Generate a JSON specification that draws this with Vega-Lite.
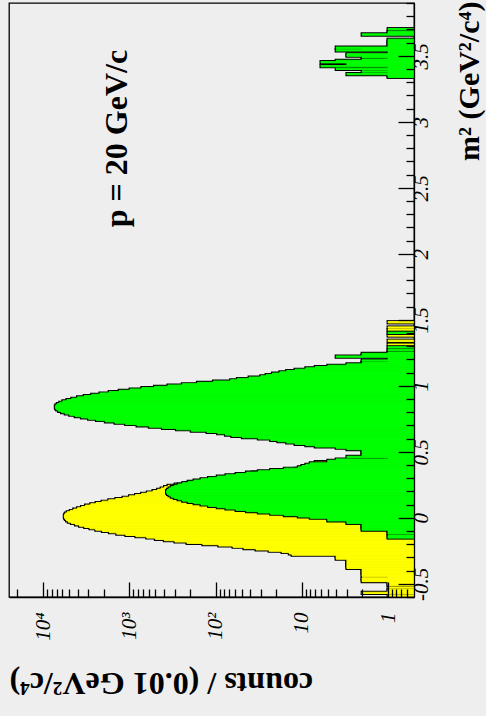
{
"$schema":"https://vega.github.io/schema/vega-lite/v6.json",
"width":405,"height":594,
"autosize":{"type":"none"},
"padding":{"left":9,"top":3,"right":72,"bottom":119},
"background":"#eeeeee",
"config":{"view":{"stroke":"black","strokeWidth":1.3,"fill":"#eeeeee"},"font":"Liberation Serif"},
"datasets":{"h":[
{"m":-0.59,"c":1,"s":"y"},{"m":-0.57,"c":2,"s":"y"},{"m":-0.56,"c":1,"s":"y"},{"m":-0.55,"c":1,"s":"y"},{"m":-0.53,"c":1,"s":"y"},{"m":-0.51,"c":1,"s":"y"},{"m":-0.50,"c":1,"s":"y"},{"m":-0.49,"c":1,"s":"y"},{"m":-0.48,"c":2,"s":"y"},{"m":-0.47,"c":2,"s":"y"},{"m":-0.46,"c":2,"s":"y"},{"m":-0.45,"c":1,"s":"y"},{"m":-0.44,"c":2,"s":"y"},{"m":-0.43,"c":2,"s":"y"},{"m":-0.42,"c":2,"s":"y"},{"m":-0.41,"c":2,"s":"y"},{"m":-0.40,"c":2,"s":"y"},{"m":-0.39,"c":2,"s":"y"},{"m":-0.38,"c":3,"s":"y"},{"m":-0.37,"c":3,"s":"y"},{"m":-0.36,"c":3,"s":"y"},{"m":-0.35,"c":3,"s":"y"},{"m":-0.34,"c":3,"s":"y"},{"m":-0.33,"c":3,"s":"y"},{"m":-0.32,"c":3,"s":"y"},{"m":-0.31,"c":4,"s":"y"},{"m":-0.30,"c":4,"s":"y"},{"m":-0.29,"c":4,"s":"y"},{"m":-0.28,"c":13,"s":"y"},{"m":-0.27,"c":14,"s":"y"},{"m":-0.26,"c":17,"s":"y"},{"m":-0.25,"c":24,"s":"y"},{"m":-0.24,"c":34,"s":"y"},{"m":-0.23,"c":47,"s":"y"},{"m":-0.22,"c":63,"s":"y"},{"m":-0.21,"c":92,"s":"y"},{"m":-0.20,"c":141,"s":"y"},{"m":-0.19,"c":215,"s":"y"},{"m":-0.18,"c":297,"s":"y"},{"m":-0.17,"c":394,"s":"y"},{"m":-0.16,"c":501,"s":"y"},{"m":-0.15,"c":631,"s":"y"},{"m":-0.14,"c":843,"s":"y"},{"m":-0.13,"c":1104,"s":"y"},{"m":-0.12,"c":1405,"s":"y"},{"m":-0.11,"c":1710,"s":"y"},{"m":-0.10,"c":2066,"s":"y"},{"m":-0.09,"c":2462,"s":"y"},{"m":-0.08,"c":2878,"s":"y"},{"m":-0.07,"c":3311,"s":"y"},{"m":-0.06,"c":3802,"s":"y"},{"m":-0.05,"c":4244,"s":"y"},{"m":-0.04,"c":4730,"s":"y"},{"m":-0.03,"c":5117,"s":"y"},{"m":-0.02,"c":5370,"s":"y"},{"m":-0.01,"c":5546,"s":"y"},{"m":0.00,"c":5662,"s":"y"},{"m":0.01,"c":5715,"s":"y"},{"m":0.02,"c":5662,"s":"y"},{"m":0.03,"c":5546,"s":"y"},{"m":0.04,"c":5280,"s":"y"},{"m":0.05,"c":4870,"s":"y"},{"m":0.06,"c":4442,"s":"y"},{"m":0.07,"c":4004,"s":"y"},{"m":0.08,"c":3603,"s":"y"},{"m":0.09,"c":3234,"s":"y"},{"m":0.10,"c":2816,"s":"y"},{"m":0.11,"c":2443,"s":"y"},{"m":0.12,"c":2085,"s":"y"},{"m":0.13,"c":1738,"s":"y"},{"m":0.14,"c":1440,"s":"y"},{"m":0.15,"c":1189,"s":"y"},{"m":0.16,"c":1000,"s":"y"},{"m":0.17,"c":851,"s":"y"},{"m":0.18,"c":724,"s":"y"},{"m":0.19,"c":622,"s":"y"},{"m":0.20,"c":534,"s":"y"},{"m":0.21,"c":472,"s":"y"},{"m":0.22,"c":430,"s":"y"},{"m":0.23,"c":392,"s":"y"},{"m":0.24,"c":357,"s":"y"},{"m":0.25,"c":295,"s":"y"},{"m":0.26,"c":234,"s":"y"},{"m":0.27,"c":182,"s":"y"},{"m":0.28,"c":144,"s":"y"},{"m":0.29,"c":112,"s":"y"},{"m":0.30,"c":90,"s":"y"},{"m":0.31,"c":72,"s":"y"},{"m":0.32,"c":58,"s":"y"},{"m":0.33,"c":47,"s":"y"},{"m":0.34,"c":38,"s":"y"},{"m":0.35,"c":23,"s":"y"},{"m":0.36,"c":14,"s":"y"},{"m":0.37,"c":12,"s":"y"},{"m":0.38,"c":10,"s":"y"},{"m":0.39,"c":8,"s":"y"},{"m":0.40,"c":6,"s":"y"},{"m":0.41,"c":5,"s":"y"},{"m":0.42,"c":7,"s":"y"},{"m":0.43,"c":3,"s":"y"},{"m":0.44,"c":2,"s":"y"},{"m":0.45,"c":2,"s":"y"},{"m":0.46,"c":2,"s":"y"},{"m":0.48,"c":1,"s":"y"},{"m":0.50,"c":1,"s":"y"},{"m":0.53,"c":1,"s":"y"},{"m":1.18,"c":2,"s":"y"},{"m":1.26,"c":1,"s":"y"},{"m":1.31,"c":1,"s":"y"},{"m":1.34,"c":1,"s":"y"},{"m":1.38,"c":1,"s":"y"},{"m":1.42,"c":1,"s":"y"},{"m":1.44,"c":1,"s":"y"},{"m":1.48,"c":1,"s":"y"},
{"m":-0.15,"c":1,"s":"g"},{"m":-0.14,"c":1,"s":"g"},{"m":-0.12,"c":1,"s":"g"},{"m":-0.11,"c":1,"s":"g"},{"m":-0.10,"c":1,"s":"g"},{"m":-0.09,"c":2,"s":"g"},{"m":-0.08,"c":2,"s":"g"},{"m":-0.07,"c":2,"s":"g"},{"m":-0.06,"c":2,"s":"g"},{"m":-0.05,"c":2,"s":"g"},{"m":-0.04,"c":3,"s":"g"},{"m":-0.03,"c":3,"s":"g"},{"m":-0.02,"c":5,"s":"g"},{"m":-0.01,"c":5,"s":"g"},{"m":0.00,"c":8,"s":"g"},{"m":0.01,"c":11,"s":"g"},{"m":0.02,"c":16,"s":"g"},{"m":0.03,"c":23,"s":"g"},{"m":0.04,"c":32,"s":"g"},{"m":0.05,"c":44,"s":"g"},{"m":0.06,"c":58,"s":"g"},{"m":0.07,"c":76,"s":"g"},{"m":0.08,"c":96,"s":"g"},{"m":0.09,"c":121,"s":"g"},{"m":0.10,"c":148,"s":"g"},{"m":0.11,"c":178,"s":"g"},{"m":0.12,"c":209,"s":"g"},{"m":0.13,"c":242,"s":"g"},{"m":0.14,"c":273,"s":"g"},{"m":0.15,"c":302,"s":"g"},{"m":0.16,"c":328,"s":"g"},{"m":0.17,"c":348,"s":"g"},{"m":0.18,"c":363,"s":"g"},{"m":0.19,"c":371,"s":"g"},{"m":0.20,"c":371,"s":"g"},{"m":0.21,"c":363,"s":"g"},{"m":0.22,"c":348,"s":"g"},{"m":0.23,"c":328,"s":"g"},{"m":0.24,"c":302,"s":"g"},{"m":0.25,"c":273,"s":"g"},{"m":0.26,"c":242,"s":"g"},{"m":0.27,"c":209,"s":"g"},{"m":0.28,"c":178,"s":"g"},{"m":0.29,"c":148,"s":"g"},{"m":0.30,"c":121,"s":"g"},{"m":0.31,"c":96,"s":"g"},{"m":0.32,"c":76,"s":"g"},{"m":0.33,"c":58,"s":"g"},{"m":0.34,"c":44,"s":"g"},{"m":0.35,"c":32,"s":"g"},{"m":0.36,"c":23,"s":"g"},{"m":0.37,"c":16,"s":"g"},{"m":0.38,"c":11,"s":"g"},{"m":0.39,"c":10,"s":"g"},{"m":0.40,"c":9,"s":"g"},{"m":0.41,"c":8,"s":"g"},{"m":0.42,"c":5,"s":"g"},{"m":0.43,"c":5,"s":"g"},{"m":0.44,"c":4,"s":"g"},{"m":0.45,"c":1,"s":"g"},{"m":0.46,"c":3,"s":"g"},{"m":0.47,"c":2,"s":"g"},{"m":0.48,"c":2,"s":"g"},{"m":0.49,"c":2,"s":"g"},{"m":0.50,"c":2,"s":"g"},{"m":0.51,"c":2,"s":"g"},{"m":0.52,"c":3,"s":"g"},{"m":0.53,"c":4,"s":"g"},{"m":0.54,"c":7,"s":"g"},{"m":0.55,"c":9,"s":"g"},{"m":0.56,"c":12,"s":"g"},{"m":0.57,"c":15,"s":"g"},{"m":0.58,"c":19,"s":"g"},{"m":0.59,"c":23,"s":"g"},{"m":0.60,"c":32,"s":"g"},{"m":0.61,"c":49,"s":"g"},{"m":0.62,"c":65,"s":"g"},{"m":0.63,"c":77,"s":"g"},{"m":0.64,"c":95,"s":"g"},{"m":0.65,"c":126,"s":"g"},{"m":0.66,"c":192,"s":"g"},{"m":0.67,"c":285,"s":"g"},{"m":0.68,"c":415,"s":"g"},{"m":0.69,"c":589,"s":"g"},{"m":0.70,"c":818,"s":"g"},{"m":0.71,"c":1109,"s":"g"},{"m":0.72,"c":1472,"s":"g"},{"m":0.73,"c":1905,"s":"g"},{"m":0.74,"c":2415,"s":"g"},{"m":0.75,"c":2985,"s":"g"},{"m":0.76,"c":3614,"s":"g"},{"m":0.77,"c":4276,"s":"g"},{"m":0.78,"c":4938,"s":"g"},{"m":0.79,"c":5572,"s":"g"},{"m":0.80,"c":6152,"s":"g"},{"m":0.81,"c":6637,"s":"g"},{"m":0.82,"c":6998,"s":"g"},{"m":0.83,"c":7211,"s":"g"},{"m":0.84,"c":7261,"s":"g"},{"m":0.85,"c":7145,"s":"g"},{"m":0.86,"c":6871,"s":"g"},{"m":0.87,"c":6457,"s":"g"},{"m":0.88,"c":5932,"s":"g"},{"m":0.89,"c":5323,"s":"g"},{"m":0.90,"c":4674,"s":"g"},{"m":0.91,"c":4009,"s":"g"},{"m":0.92,"c":3357,"s":"g"},{"m":0.93,"c":2751,"s":"g"},{"m":0.94,"c":2203,"s":"g"},{"m":0.95,"c":1722,"s":"g"},{"m":0.96,"c":1318,"s":"g"},{"m":0.97,"c":984,"s":"g"},{"m":0.98,"c":719,"s":"g"},{"m":0.99,"c":513,"s":"g"},{"m":1.00,"c":358,"s":"g"},{"m":1.01,"c":244,"s":"g"},{"m":1.02,"c":163,"s":"g"},{"m":1.03,"c":106,"s":"g"},{"m":1.04,"c":67,"s":"g"},{"m":1.05,"c":56,"s":"g"},{"m":1.06,"c":41,"s":"g"},{"m":1.07,"c":30,"s":"g"},{"m":1.08,"c":26,"s":"g"},{"m":1.09,"c":22,"s":"g"},{"m":1.10,"c":18,"s":"g"},{"m":1.11,"c":15,"s":"g"},{"m":1.12,"c":12,"s":"g"},{"m":1.13,"c":9,"s":"g"},{"m":1.14,"c":7,"s":"g"},{"m":1.15,"c":5,"s":"g"},{"m":1.16,"c":3,"s":"g"},{"m":1.17,"c":2,"s":"g"},{"m":1.18,"c":1,"s":"g"},{"m":1.19,"c":2,"s":"g"},{"m":1.20,"c":1,"s":"g"},{"m":1.21,"c":1,"s":"g"},{"m":1.22,"c":4,"s":"g"},{"m":1.23,"c":2,"s":"g"},{"m":1.24,"c":2,"s":"g"},{"m":1.25,"c":1,"s":"g"},{"m":1.27,"c":1,"s":"g"},{"m":1.29,"c":1,"s":"g"},{"m":1.40,"c":1,"s":"g"},
{"m":3.34,"c":1,"s":"g"},{"m":3.35,"c":1,"s":"g"},{"m":3.36,"c":3,"s":"g"},{"m":3.37,"c":1,"s":"g"},{"m":3.38,"c":2,"s":"g"},{"m":3.39,"c":1,"s":"g"},{"m":3.40,"c":4,"s":"g"},{"m":3.41,"c":1,"s":"g"},{"m":3.42,"c":6,"s":"g"},{"m":3.43,"c":3,"s":"g"},{"m":3.44,"c":3,"s":"g"},{"m":3.45,"c":6,"s":"g"},{"m":3.46,"c":4,"s":"g"},{"m":3.47,"c":2,"s":"g"},{"m":3.48,"c":1,"s":"g"},{"m":3.49,"c":2,"s":"g"},{"m":3.50,"c":3,"s":"g"},{"m":3.51,"c":3,"s":"g"},{"m":3.52,"c":1,"s":"g"},{"m":3.53,"c":1,"s":"g"},{"m":3.54,"c":4,"s":"g"},{"m":3.55,"c":2,"s":"g"},{"m":3.56,"c":4,"s":"g"},{"m":3.57,"c":1,"s":"g"},{"m":3.58,"c":1,"s":"g"},{"m":3.59,"c":1,"s":"g"},{"m":3.60,"c":1,"s":"g"},{"m":3.61,"c":1,"s":"g"},{"m":3.62,"c":1,"s":"g"},{"m":3.66,"c":2,"s":"g"},{"m":3.67,"c":1,"s":"g"},{"m":3.68,"c":1,"s":"g"},{"m":3.70,"c":1,"s":"g"}
]},
"layer":[
{"data":{"name":"h"},
"encoding":{
"x":{"field":"c","type":"quantitative","scale":{"type":"log","domain":[0.5,25000],"reverse":true,"nice":false},
"axis":{"orient":"bottom","zindex":1,
"values":[0.6,0.7,0.8,0.9,1,2,3,4,5,6,7,8,9,10,20,30,40,50,60,70,80,90,100,200,300,400,500,600,700,800,900,1000,2000,3000,4000,5000,6000,7000,8000,9000,10000,20000],
"labelExpr":"datum.value==1?'1':datum.value==10?'10':datum.value==100?'10²':datum.value==1000?'10³':datum.value==10000?'10⁴':''",
"labelAngle":270,"labelAlign":"right","labelBaseline":"middle","labelFont":"Liberation Serif","labelFontStyle":"italic","labelFontSize":21,"labelColor":"black","labelPadding":30,"labelOverlap":false,"labelBound":false,"labelFlush":false,
"tickSize":{"condition":{"test":"indexof([1,10,100,1000,10000],datum.value)>=0","value":-15},"value":-8},
"tickColor":"black","tickWidth":1.3,"domainColor":"black","domainWidth":1.3,"grid":false,
"title":"counts / (0.01 GeV²/c⁴)","titleFont":"Liberation Serif","titleFontWeight":"bold","titleFontSize":32,"titleColor":"black","titleAngle":180,"titleAlign":"right","titleBaseline":"alphabetic","titleX":0,"titleY":75}},
"x2":{"datum":0.5},
"y":{"field":"m","type":"quantitative","bin":{"binned":true,"step":0.01},"scale":{"domain":[-0.6,3.9],"nice":false,"zero":false},
"axis":{"orient":"right","zindex":1,
"values":[-0.6,-0.5,-0.4,-0.3,-0.2,-0.1,0,0.1,0.2,0.3,0.4,0.5,0.6,0.7,0.8,0.9,1,1.1,1.2,1.3,1.4,1.5,1.6,1.7,1.8,1.9,2,2.1,2.2,2.3,2.4,2.5,2.6,2.7,2.8,2.9,3,3.1,3.2,3.3,3.4,3.5,3.6,3.7,3.8,3.9],
"labelExpr":"abs(datum.value*2-round(datum.value*2))<0.001 ? replace(format(datum.value,'~g'),'−','-') : ''",
"labelAngle":270,"labelAlign":"center","labelBaseline":"top","labelFont":"Liberation Serif","labelFontStyle":"italic","labelFontSize":21,"labelColor":"black","labelPadding":12,"labelOverlap":false,"labelBound":false,"labelFlush":false,
"tickSize":{"condition":{"test":"abs(datum.value*2-round(datum.value*2))<0.001","value":-16},"value":-8},
"tickColor":"black","tickWidth":1.3,"domainColor":"black","domainWidth":1.3,"grid":false,
"title":"m² (GeV²/c⁴)","titleFont":"Liberation Serif","titleFontWeight":"bold","titleFontSize":30,"titleColor":"black","titleAngle":270,"titleAlign":"right","titleBaseline":"alphabetic","titleX":64,"titleY":-2}}
},
"layer":[
{"transform":[{"filter":"datum.s=='y'"}],"mark":{"type":"rect","fill":"black","stroke":"black","strokeWidth":3,"clip":true}},
{"transform":[{"filter":"datum.s=='y'"}],"mark":{"type":"rect","fill":"#ffff00","stroke":"#ffff00","strokeWidth":1,"clip":true}},
{"transform":[{"filter":"datum.s=='g'"}],"mark":{"type":"rect","fill":"black","stroke":"black","strokeWidth":3,"clip":true}},
{"transform":[{"filter":"datum.s=='g'"}],"mark":{"type":"rect","fill":"#00ff00","stroke":"#00ff00","strokeWidth":1,"clip":true}}
]},
{"data":{"values":[{"t":"p = 20 GeV/c"}]},"mark":{"type":"text","angle":270,"font":"Liberation Serif","fontWeight":"bold","fontSize":32,"align":"center","baseline":"alphabetic","color":"black"},
"encoding":{"x":{"datum":1064,"type":"quantitative"},"y":{"datum":2.873,"type":"quantitative"},"text":{"field":"t"}}}
]
}
